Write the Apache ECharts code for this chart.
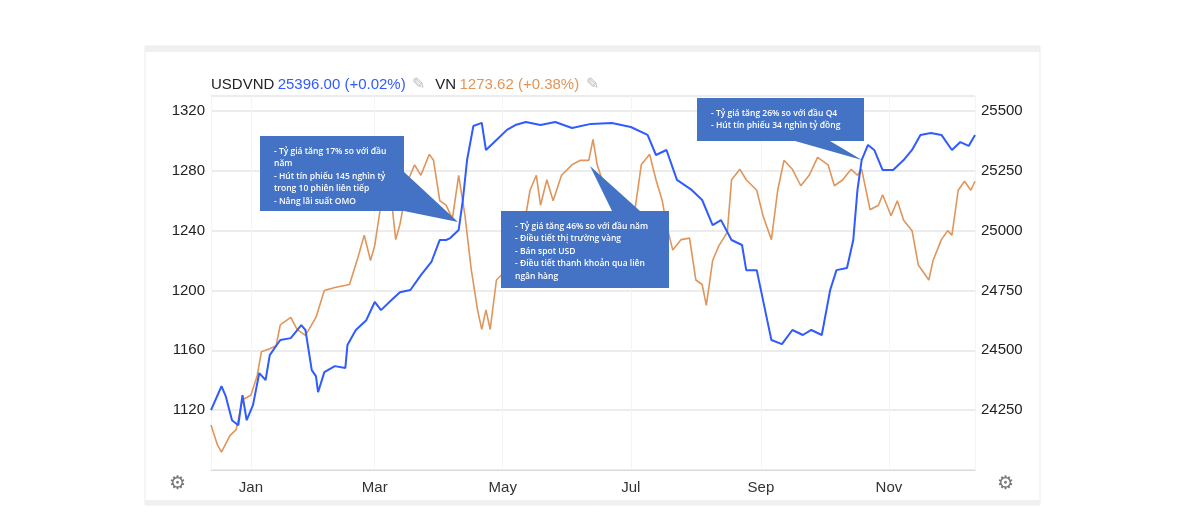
<!DOCTYPE html>
<html>
<head>
<meta charset="utf-8">
<script src="https://cdn.jsdelivr.net/npm/echarts@6/dist/echarts.min.js"></script>
<style>html,body{margin:0;padding:0;background:#fff}#main{width:1191px;height:532px}</style>
</head>
<body>
<div id="main"></div>
<script>
// USDVND (right axis)
var usdDates = ['2021-12-13','2021-12-18','2021-12-20','2021-12-23','2021-12-26','2021-12-28','2021-12-30','2022-01-02','2022-01-05','2022-01-08','2022-01-10','2022-01-13','2022-01-15','2022-01-20','2022-01-25','2022-01-27','2022-01-30','2022-02-01','2022-02-02','2022-02-05','2022-02-10','2022-02-15','2022-02-16','2022-02-20','2022-02-25','2022-03-01','2022-03-04','2022-03-09','2022-03-13','2022-03-18','2022-03-23','2022-03-28','2022-04-01','2022-04-04','2022-04-06','2022-04-10','2022-04-12','2022-04-14','2022-04-17','2022-04-21','2022-04-23','2022-04-28','2022-05-03','2022-05-07','2022-05-12','2022-05-19','2022-05-26','2022-06-03','2022-06-12','2022-06-22','2022-07-01','2022-07-09','2022-07-13','2022-07-18','2022-07-23','2022-07-30','2022-08-04','2022-08-09','2022-08-13','2022-08-18','2022-08-23','2022-08-25','2022-08-30','2022-09-04','2022-09-06','2022-09-11','2022-09-16','2022-09-21','2022-09-25','2022-09-30','2022-10-04','2022-10-07','2022-10-12','2022-10-15','2022-10-17','2022-10-19','2022-10-22','2022-10-25','2022-10-29','2022-11-03','2022-11-08','2022-11-12','2022-11-16','2022-11-21','2022-11-26','2022-12-01','2022-12-05','2022-12-09','2022-12-12'];
var usdValues = [24250,24350,24309,24208,24187,24313,24208,24271,24405,24376,24480,24518,24543,24551,24605,24585,24417,24392,24325,24409,24434,24426,24522,24585,24626,24702,24668,24710,24743,24752,24814,24869,24961,24961,24969,25003,25128,25295,25437,25450,25337,25379,25421,25441,25454,25441,25454,25429,25446,25450,25433,25400,25316,25337,25212,25170,25128,25023,25044,24961,24940,24835,24835,24626,24543,24526,24585,24564,24585,24564,24752,24835,24844,24961,25170,25295,25358,25337,25253,25253,25295,25337,25400,25408,25400,25337,25370,25354,25400];
// VN-Index (left axis)
var vnDates = ['2021-12-13','2021-12-16','2021-12-18','2021-12-22','2021-12-25','2021-12-28','2022-01-01','2022-01-04','2022-01-06','2022-01-10','2022-01-13','2022-01-15','2022-01-20','2022-01-23','2022-01-27','2022-02-01','2022-02-05','2022-02-10','2022-02-17','2022-02-21','2022-02-24','2022-02-27','2022-03-01','2022-03-05','2022-03-09','2022-03-11','2022-03-13','2022-03-17','2022-03-20','2022-03-23','2022-03-27','2022-03-29','2022-04-01','2022-04-04','2022-04-07','2022-04-10','2022-04-13','2022-04-16','2022-04-19','2022-04-21','2022-04-23','2022-04-25','2022-04-28','2022-05-03','2022-05-06','2022-05-10','2022-05-14','2022-05-17','2022-05-19','2022-05-22','2022-05-25','2022-05-29','2022-06-03','2022-06-07','2022-06-11','2022-06-13','2022-06-15','2022-06-19','2022-06-23','2022-06-26','2022-06-29','2022-07-02','2022-07-06','2022-07-10','2022-07-13','2022-07-16','2022-07-18','2022-07-21','2022-07-25','2022-07-29','2022-08-01','2022-08-04','2022-08-06','2022-08-09','2022-08-12','2022-08-16','2022-08-18','2022-08-22','2022-08-25','2022-08-30','2022-09-02','2022-09-06','2022-09-09','2022-09-12','2022-09-16','2022-09-20','2022-09-24','2022-09-28','2022-10-03','2022-10-06','2022-10-10','2022-10-14','2022-10-17','2022-10-19','2022-10-23','2022-10-27','2022-10-29','2022-11-02','2022-11-05','2022-11-08','2022-11-12','2022-11-15','2022-11-20','2022-11-22','2022-11-26','2022-11-29','2022-12-01','2022-12-04','2022-12-07','2022-12-10','2022-12-12'];
var vnValues = [1110,1097,1092,1103,1107,1127,1130,1143,1159,1161,1163,1177,1182,1174,1170,1182,1200,1202,1204,1222,1237,1220,1230,1267,1260,1234,1244,1274,1284,1277,1291,1287,1260,1257,1248,1277,1250,1214,1187,1174,1187,1174,1207,1214,1220,1234,1267,1277,1257,1274,1260,1277,1284,1287,1287,1301,1284,1267,1260,1234,1210,1244,1284,1291,1274,1260,1244,1227,1234,1235,1207,1204,1190,1220,1230,1239,1274,1281,1274,1267,1250,1234,1267,1287,1281,1270,1277,1289,1284,1270,1274,1281,1277,1281,1254,1257,1264,1250,1260,1247,1240,1217,1207,1220,1234,1240,1237,1267,1273,1267,1273];
var leftTicks = [1080, 1330, 40];
var rightTicks = [24000, 25562.5, 250];
var notes = [
  '- Tỷ giá tăng 17% so với đầu\nnăm\n- Hút tín phiếu 145 nghìn tỷ\ntrong 10 phiên liên tiếp\n- Nâng lãi suất OMO',
  '- Tỷ giá tăng 46% so với đầu năm\n- Điều tiết thị trường vàng\n- Bán spot USD\n- Điều tiết thanh khoản qua liên\nngân hàng',
  '- Tỷ giá tăng 26% so với đầu Q4\n- Hút tín phiếu 34 nghìn tỷ đồng'
];

var chart = echarts.init(document.getElementById('main'));
var months = ['Jan','Feb','Mar','Apr','May','Jun','Jul','Aug','Sep','Oct','Nov','Dec'];
var boxFill = '#4472c4';
function note(x, y, w, h, tri, txt) {
    return [
        {type: 'polygon', shape: {points: tri}, style: {fill: boxFill}, z: 50},
        {type: 'rect', shape: {x: x, y: y, width: w, height: h}, style: {fill: boxFill}, z: 50},
        {type: 'text', x: x + 14, y: y + 9, z: 51,
         style: {text: txt, fill: '#fff', font: '600 8.5px "Open Sans", sans-serif', lineHeight: 12.5}}
    ];
}
var plain = function (v) { return String(v); };
var option = {
    animation: false,
    backgroundColor: '#fff',
    grid: {left: 211, right: 216, top: 96, bottom: 62},
    xAxis: {
        type: 'time',
        min: '2021-12-13', max: '2022-12-12',
        axisLine: {show: true, lineStyle: {color: '#d9d9d9'}},
        axisTick: {show: false},
        splitLine: {show: true, lineStyle: {color: '#f4f4f4'}},
        axisLabel: {
            color: '#333', fontSize: 15, fontFamily: 'Arial', margin: 10,
            formatter: function (v) {
                var d = new Date(v);
                if (d.getDate() !== 1) return '';
                var m = d.getMonth();
                return m % 2 === 0 ? months[m] : '';
            }
        }
    },
    yAxis: [
        {type: 'value', position: 'left', min: leftTicks[0], max: leftTicks[1], interval: leftTicks[2],
         axisLabel: {color: '#222', fontSize: 15, fontFamily: 'Arial', margin: 6, formatter: plain, showMinLabel: false, showMaxLabel: false},
         axisLine: {show: false}, axisTick: {show: false},
         splitLine: {lineStyle: {color: '#e6e6e6', width: 1.5}}},
        {type: 'value', position: 'right', min: rightTicks[0], max: rightTicks[1], interval: rightTicks[2],
         axisLabel: {color: '#222', fontSize: 15, fontFamily: 'Arial', margin: 6, formatter: plain, showMinLabel: false, showMaxLabel: false},
         axisLine: {show: false}, axisTick: {show: false}, splitLine: {show: false}}
    ],
    series: [
        {name: 'VN', type: 'line', yAxisIndex: 0, showSymbol: false,
         lineStyle: {color: '#e0955a', width: 1.6}, itemStyle: {color: '#e0955a'},
         data: vnDates.map(function (d, i) { return [d, vnValues[i]]; })},
        {name: 'USDVND', type: 'line', yAxisIndex: 1, showSymbol: false, z: 3,
         lineStyle: {color: '#2f5bff', width: 2}, itemStyle: {color: '#2f5bff'},
         data: usdDates.map(function (d, i) { return [d, usdValues[i]]; })}
    ],
    graphic: [
        {type: 'rect', shape: {x: 145, y: 46, width: 895, height: 6}, style: {fill: '#f0f0f0'}, z: -1},
        {type: 'rect', shape: {x: 145, y: 46, width: 895, height: 459}, style: {fill: 'none', stroke: '#ececec'}, z: -1},
        {type: 'rect', shape: {x: 145, y: 500, width: 895, height: 5}, style: {fill: '#f0f0f0'}, z: -1},
        {type: 'text', x: 211, y: 77, style: {
            text: '{k|USDVND} {b|25396.00 (+0.02%)}  {p|✎}   {k|VN} {o|1273.62 (+0.38%)}  {p|✎}',
            rich: {
                k: {fill: '#222', fontSize: 15, fontFamily: 'Arial'},
                b: {fill: '#2f5bff', fontSize: 15, fontFamily: 'Arial'},
                o: {fill: '#e0955a', fontSize: 15, fontFamily: 'Arial'},
                p: {fill: '#bbb', fontSize: 16}
            }}},
        {type: 'text', x: 169, y: 474, style: {text: '⚙', fill: '#777', fontSize: 19}},
        {type: 'text', x: 997, y: 474, style: {text: '⚙', fill: '#777', fontSize: 19}}
    ]
        .concat(note(260, 136, 144, 75, [[352, 211], [404, 172], [458, 222], [404, 211]], notes[0]))
        .concat(note(501, 211, 168, 77, [[590, 166], [612, 211], [640, 211]], notes[1]))
        .concat(note(697, 98, 167, 43, [[795, 141], [862, 160], [830, 141]], notes[2]))
};
chart.setOption(option);
</script>
</body>
</html>
